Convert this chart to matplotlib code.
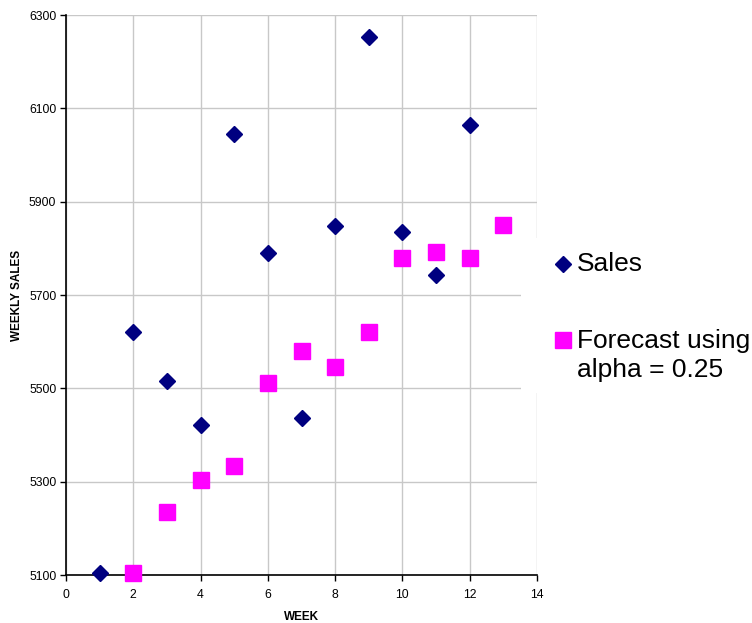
import matplotlib
matplotlib.use("Agg")
import matplotlib.pyplot as plt

plt.rcParams['font.family'] = ['Liberation Sans', 'DejaVu Sans']

# Weekly sales and exponentially smoothed forecast
weeks_sales = [1, 2, 3, 4, 5, 6, 7, 8, 9, 10, 11, 12]
sales = [5105, 5620, 5515, 5422, 6045, 5790, 5437, 5848, 6253, 5835, 5742, 6065]

weeks_forecast = [2, 3, 4, 5, 6, 7, 8, 9, 10, 11, 12, 13]
forecast = [5105, 5234, 5304, 5334, 5511, 5581, 5545, 5621, 5779, 5793, 5780, 5851]

x_ticks = [0, 2, 4, 6, 8, 10, 12, 14]
y_ticks = [5100, 5300, 5500, 5700, 5900, 6100, 6300]

SALES_COLOR = '#000080'
FORECAST_COLOR = '#ff00ff'

W, H = 752, 623
fig = plt.figure(figsize=(W / 100, H / 100), dpi=100)
ax = fig.add_axes([66 / W, 1 - 575 / H, (537 - 66) / W, (575 - 15) / H])

ax.set_xlim(0, 14)
ax.set_ylim(5100, 6300)
ax.set_xticks(x_ticks)
ax.set_yticks(y_ticks)
ax.grid(True, color='#c8c8c8', linewidth=1)
ax.set_axisbelow(True)

for side in ('top', 'right'):
    ax.spines[side].set_visible(False)
for side in ('left', 'bottom'):
    ax.spines[side].set_color('black')
    ax.spines[side].set_linewidth(1.2)

ax.tick_params(axis='both', direction='out', length=4, width=1, color='black',
               labelsize=8.8)
ax.tick_params(axis='x', pad=6)
ax.tick_params(axis='y', pad=3)

ax.plot(weeks_sales, sales, linestyle='none', marker='D', markersize=8.5,
        color=SALES_COLOR, clip_on=False, zorder=3)
ax.plot(weeks_forecast, forecast, linestyle='none', marker='s', markersize=11,
        color=FORECAST_COLOR, clip_on=False, zorder=3)

ax.set_xlabel('WEEK', fontsize=8.5, fontweight='bold', labelpad=7)
ax.set_ylabel('WEEKLY SALES', fontsize=8.5, fontweight='bold', labelpad=4)

# Legend panel on the right, laid out in pixel units
x0, x1, y0, y1 = 521, W, 238, 393
leg_ax = fig.add_axes([x0 / W, 1 - y1 / H, (x1 - x0) / W, (y1 - y0) / H])
leg_ax.set_xlim(x0, x1)
leg_ax.set_ylim(y1, y0)
leg_ax.axis('off')
leg_ax.add_patch(plt.Rectangle((0, 0), 1, 1, facecolor='white', edgecolor='none',
                               transform=leg_ax.transAxes, zorder=0))

legend_font = 19
leg_ax.plot([563], [264], linestyle='none', marker='D', markersize=8.5,
            color=SALES_COLOR, clip_on=False)
leg_ax.text(577, 264, 'Sales', fontsize=legend_font, va='center', ha='left')
leg_ax.plot([563], [340.5], linestyle='none', marker='s', markersize=11,
            color=FORECAST_COLOR, clip_on=False)
leg_ax.text(577, 341, 'Forecast using', fontsize=legend_font, va='center', ha='left')
leg_ax.text(577, 370, 'alpha = 0.25', fontsize=legend_font, va='center', ha='left')

fig.savefig('out.png', dpi=100)
